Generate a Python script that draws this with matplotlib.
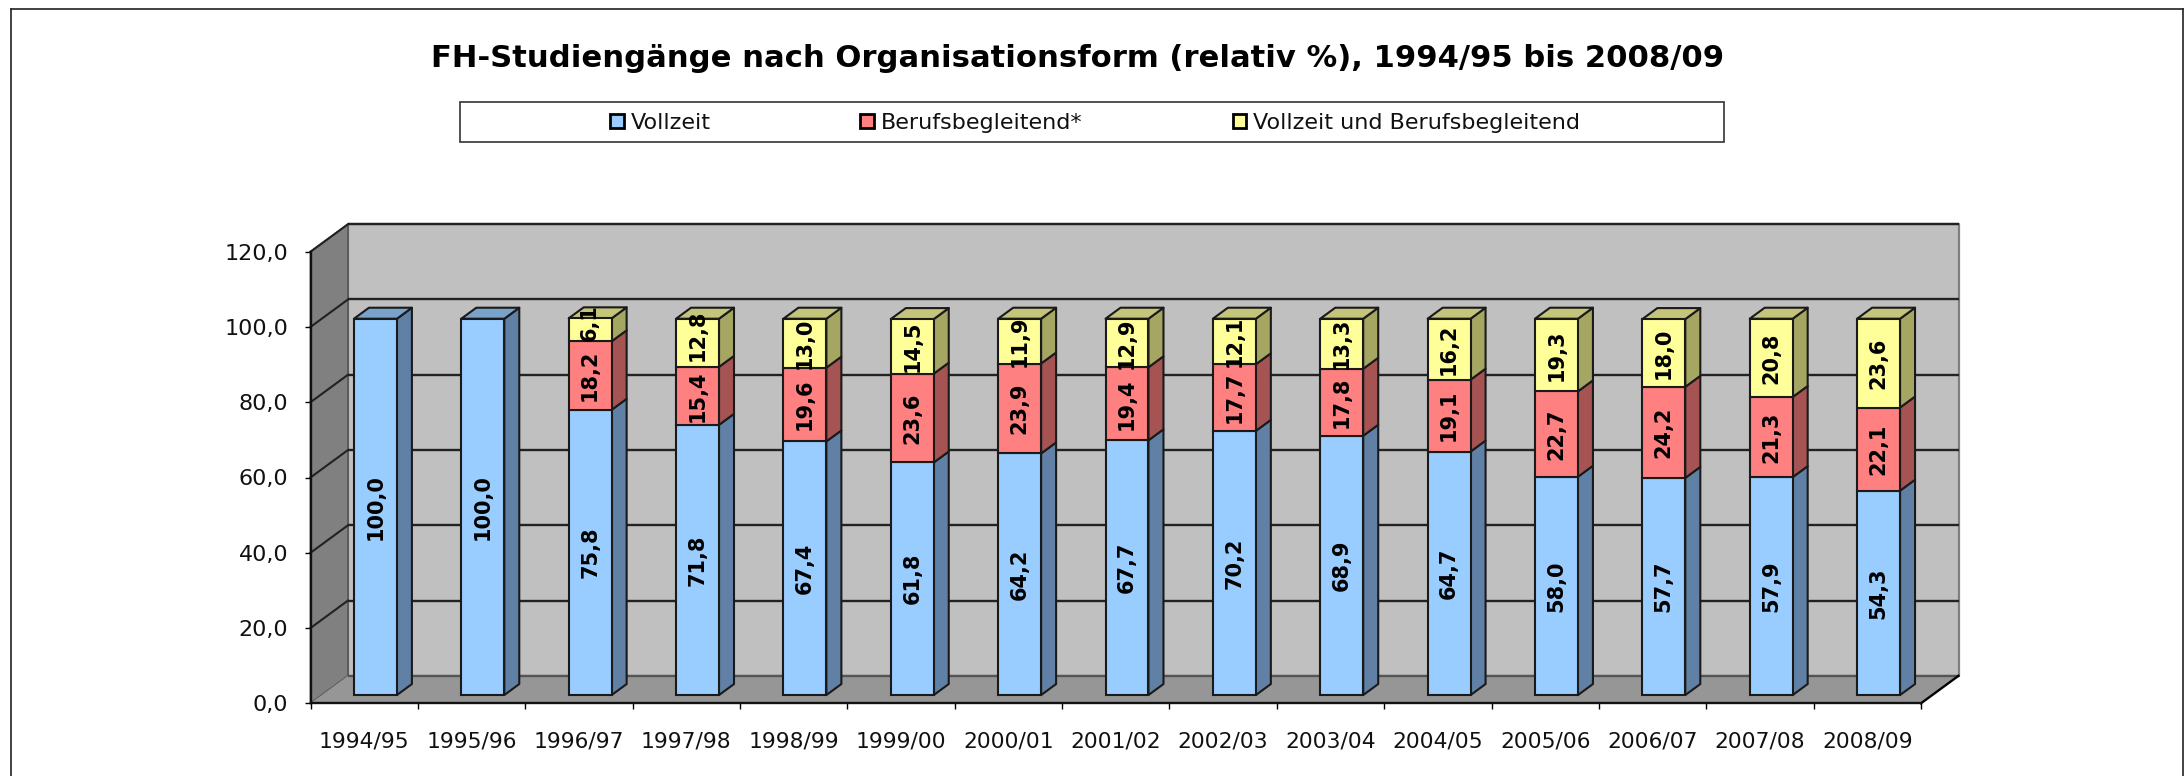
import matplotlib
matplotlib.use('Agg')
import matplotlib.pyplot as plt
import numpy as np
from matplotlib.lines import Line2D
from matplotlib.patches import Patch, Polygon, Rectangle

# data
years = ['1994/95', '1995/96', '1996/97', '1997/98', '1998/99', '1999/00', '2000/01', '2001/02',
         '2002/03', '2003/04', '2004/05', '2005/06', '2006/07', '2007/08', '2008/09']
vollzeit = [100.0, 100.0, 75.8, 71.8, 67.4, 61.8, 64.2, 67.7, 70.2, 68.9, 64.7, 58.0, 57.7, 57.9, 54.3]
berufsbegleitend = [0, 0, 18.2, 15.4, 19.6, 23.6, 23.9, 19.4, 17.7, 17.8, 19.1, 22.7, 24.2, 21.3, 22.1]
beides = [0, 0, 6.1, 12.8, 13.0, 14.5, 11.9, 12.9, 12.1, 13.3, 16.2, 19.3, 18.0, 20.8, 23.6]
y_ticks = [0, 20, 40, 60, 80, 100, 120]
y_labels = ['0,0', '20,0', '40,0', '60,0', '80,0', '100,0', '120,0']
names = ['Vollzeit', 'Berufsbegleitend*', 'Vollzeit und Berufsbegleitend']

# style
W, H = 2184, 776
front = ['#99CCFF', '#FF8080', '#FFFF99']
side = ['#6080A6', '#A65353', '#A6A663']
top = ['#7AA3CC', '#CC6666', '#C4C47A']
edge = '#1a1a1a'
text_col = '#111111'
bar_w = 0.4
d_front, d_back = 0.3, 0.7   # bar position inside the chart depth

# pixel box of the front plane of the plot
x0, x1, y_bottom, y_top = 310.5, 1921.0, 703.3, 251.7
dep_x = 37.5 / ((x1 - x0) / 15)
dep_y = 27.5 / ((y_bottom - y_top) / 120)


def deep(x, y, d):
    # move a point backwards into the fake 3D box
    return x + d * dep_x, y + d * dep_y


fig = plt.figure(figsize=(W / 100, H / 100), dpi=100)
plt.rcParams['font.family'] = 'DejaVu Sans'
ax = fig.add_axes([x0 / W, 1 - y_bottom / H, (x1 - x0) / W, (y_bottom - y_top) / H])
ax.set_xlim(0, 15)
ax.set_ylim(0, 120)
ax.patch.set_visible(False)


def poly(pts, color, ec=None, lw=0, z=1):
    ax.add_patch(Polygon(pts, closed=True, facecolor=color, edgecolor=ec or color, linewidth=lw,
                         zorder=z, clip_on=False, joinstyle='round'))


# walls and floor
poly([deep(0, 0, 1), deep(15, 0, 1), deep(15, 120, 1), deep(0, 120, 1)], '#C0C0C0', '#808080', 1.6, 1)
poly([deep(0, 0, 0), deep(0, 0, 1), deep(0, 120, 1), deep(0, 120, 0)], '#808080', '#555555', 1.2, 1)
poly([deep(0, 0, 0), deep(15, 0, 0), deep(15, 0, 1), deep(0, 0, 1)], '#969696', None, 0, 1)

# grid lines on back wall and side wall
for v in y_ticks:
    xa, ya = deep(0, v, 0)
    xb, yb = deep(0, v, 1)
    xc, yc = deep(15, v, 1)
    col = '#222222' if v > 0 else '#555555'
    ax.plot([xb, xc], [yb, yc], color=col, lw=1.7, zorder=2, clip_on=False, solid_capstyle='butt')
    if v > 0:
        ax.plot([xa, xb], [ya, yb], color='#222222', lw=1.5, zorder=2, clip_on=False)
xa, ya = deep(15, 0, 0)
xb, yb = deep(15, 0, 1)
ax.plot([xa, xb], [ya, yb], color='black', lw=1.7, zorder=2, clip_on=False)

# bars
xs = np.arange(len(years)) + 0.5 - bar_w / 2
series = [np.array(vollzeit), np.array(berufsbegleitend), np.array(beides)]
label_shift = {(2, 2): 1.9, (2, 3): 1.9}   # Excel moved these two labels up a bit
bottom = np.zeros(len(years))
for i, vals in enumerate(series):
    keep = vals > 0
    fx, fb = deep(xs[keep], bottom[keep], d_front)
    ax.bar(fx, vals[keep], width=bar_w, bottom=fb, align='edge', color=front[i], edgecolor=edge,
           linewidth=1.5, zorder=4, clip_on=False)
    for j in np.where(keep)[0]:
        xl, xr = xs[j], xs[j] + bar_w
        lo, hi = bottom[j], bottom[j] + vals[j]
        poly([deep(xr, lo, d_front), deep(xr, lo, d_back), deep(xr, hi, d_back), deep(xr, hi, d_front)],
             side[i], edge, 1.5, 3)
        if i == 2 or beides[j] == 0:
            poly([deep(xl, hi, d_front), deep(xr, hi, d_front), deep(xr, hi, d_back), deep(xl, hi, d_back)],
                 top[i], edge, 1.5, 3)
        tx, ty = deep(xl + bar_w / 2, (lo + hi) / 2 + label_shift.get((i, j), 0), d_front)
        ax.text(tx, ty, f'{vals[j]:.1f}'.replace('.', ','), rotation=90, ha='center', va='center',
                fontsize=15, fontweight='bold', color='black', zorder=6, clip_on=False)
    bottom = bottom + vals

# axes
for s in ['top', 'right']:
    ax.spines[s].set_visible(False)
for s in ['left', 'bottom']:
    ax.spines[s].set_linewidth(1.7)
    ax.spines[s].set_color('#111111')
    ax.spines[s].set_zorder(3)
ax.set_yticks(y_ticks)
ax.set_yticklabels(y_labels, fontsize=16, color=text_col)
ax.tick_params(axis='y', length=4.5, width=1, pad=11.5)
ax.set_xticks(np.arange(16))
ax.set_xticklabels([])
ax.tick_params(axis='x', which='major', length=4.5, width=1)
ax.set_xticks(np.arange(15) + 0.5, minor=True)
ax.set_xticklabels(years, minor=True, fontsize=15.7, color=text_col)
ax.tick_params(axis='x', which='minor', length=0, pad=20)

# title, legend box, outer frame
fig.text(1078 / W, 1 - 58.5 / H, 'FH-Studiengänge nach Organisationsform (relativ %), 1994/95 bis 2008/09',
         ha='center', va='center', fontsize=22.05, fontweight='bold', color='black')
fig.add_artist(Rectangle((460 / W, 1 - 142 / H), 1264 / W, 40 / H, transform=fig.transFigure,
                         facecolor='white', edgecolor='#333333', linewidth=1.2))
handles = [Patch(facecolor=front[i], edgecolor='black', linewidth=2.0, label=names[i]) for i in range(3)]
fig.legend(handles=handles, ncols=3, frameon=False, loc='center', bbox_to_anchor=(1095 / W, 1 - 123 / H),
           fontsize=16, handlelength=0.62, handleheight=0.62, handletextpad=0.3, columnspacing=6.75,
           labelcolor=text_col)
for xa, ya, xb, yb in [(10.5, H, 10.5, 8.5), (10.5, 8.5, 2183, 8.5), (2183, 8.5, 2183, H)]:
    fig.add_artist(Line2D([xa / W, xb / W], [1 - ya / H, 1 - yb / H], color='#222222', lw=1.2))

fig.savefig('out.png', dpi=100, facecolor='white')
